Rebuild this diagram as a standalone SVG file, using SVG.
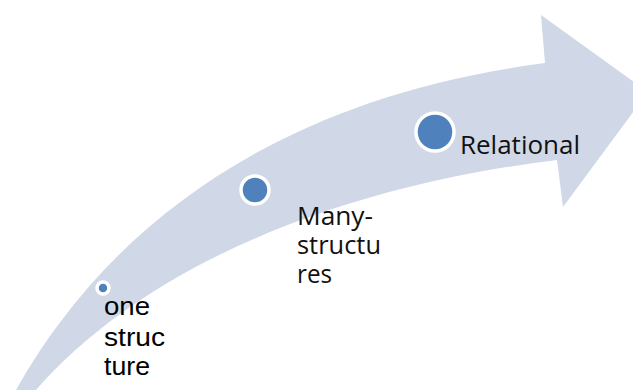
<svg xmlns="http://www.w3.org/2000/svg" width="633" height="390" viewBox="0 0 633 390">
<style>
.dot{fill:#4f81bd;stroke:#ffffff;stroke-width:3.5}
.t1{font-family:"Liberation Sans",Arial,sans-serif;font-size:26px;fill:#000}
.t2{font-family:"Open Sans","Noto Sans",sans-serif;font-size:25px;fill:#111}
</style>
<rect width="633" height="390" fill="#ffffff"/>
<g id="arrow">
<path d="M16,390 C100,240 260,100 545,63 L541,15 L648,92 L563,207 L557,160 C350,185 150,260 36,390 Z" fill="#d0d8e8"/>
</g>
<g id="node-one">
<circle class="dot" cx="103" cy="288" r="6"/>
<text class="t1" x="104" y="315" textLength="46" lengthAdjust="spacingAndGlyphs">one</text>
<text class="t1" x="104" y="346" textLength="61" lengthAdjust="spacingAndGlyphs">struc</text>
<text class="t1" x="104" y="375" textLength="46" lengthAdjust="spacingAndGlyphs">ture</text>
</g>
<g id="node-many">
<circle class="dot" cx="255" cy="190" r="14"/>
<text class="t2" x="297" y="225" textLength="76" lengthAdjust="spacingAndGlyphs">Many-</text>
<text class="t2" x="297" y="254" textLength="84" lengthAdjust="spacingAndGlyphs">structu</text>
<text class="t2" x="297" y="283" textLength="35" lengthAdjust="spacingAndGlyphs">res</text>
</g>
<g id="node-relational">
<circle class="dot" cx="435" cy="132" r="19"/>
<text class="t2" x="460" y="154" textLength="120" lengthAdjust="spacingAndGlyphs">Relational</text>
</g>
</svg>
